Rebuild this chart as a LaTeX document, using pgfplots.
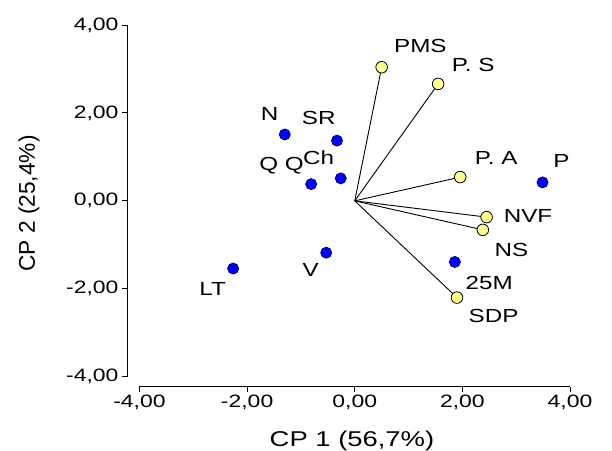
\documentclass[border=0pt]{standalone}
\usepackage{fontspec}
\setmainfont{Liberation Sans}
\newfontfamily\wide[FakeStretch=1.28]{Liberation Sans}
\usepackage{pgfplots}
\pgfplotsset{compat=1.18}
\definecolor{ptblue}{RGB}{0,0,255}
\definecolor{ptyellow}{RGB}{255,255,150}
\begin{document}
\begin{tikzpicture}
\begin{axis}[
  scale only axis,
  width=430.5bp, height=351.7bp,
  xmin=-4, xmax=4, ymin=-4, ymax=4,
  axis lines=left,
  axis line style={-, line width=0.9bp},
  axis x line shift=10bp,
  axis y line shift=12.5bp,
  tick align=outside,
  major tick length=5bp,
  tick style={line width=0.9bp, black},
  xtick={-4,-2,0,2,4}, ytick={-4,-2,0,2,4},
  xticklabels={{-4,00},{-2,00},{0,00},{2,00},{4,00}},
  yticklabels={{-4,00},{-2,00},{0,00},{2,00},{4,00}},
  ticklabel style={font=\wide\fontsize{18}{18}\selectfont},
  xlabel={\wide\fontsize{21.5}{21.5}\selectfont CP 1 (56,7\%)},
  ylabel={\fontsize{22.8}{22.8}\selectfont CP 2 (25,4\%)},
  xlabel style={at={(axis description cs:0.4936,-0.184)}, anchor=center, inner sep=0pt},
  ylabel style={at={(axis description cs:-0.2567,0.4925)}, anchor=center, inner sep=0pt},
  clip=false,
]
\coordinate (O) at (rel axis cs:0,0);
% loading vectors
\addplot[black, line width=0.9bp] coordinates {(0,0) (0.50,3.04)};
\addplot[black, line width=0.9bp] coordinates {(0,0) (1.55,2.66)};
\addplot[black, line width=0.9bp] coordinates {(0,0) (1.96,0.54)};
\addplot[black, line width=0.9bp] coordinates {(0,0) (2.45,-0.37)};
\addplot[black, line width=0.9bp] coordinates {(0,0) (2.38,-0.66)};
\addplot[black, line width=0.9bp] coordinates {(0,0) (1.90,-2.20)};
% variables (yellow)
\addplot[only marks, mark=*, mark size=5.8bp, mark options={fill=ptyellow, draw=black, line width=0.8bp}] coordinates {
(0.50,3.04) (1.55,2.66) (1.96,0.54) (2.45,-0.37) (2.38,-0.66) (1.90,-2.20)};
% observations (blue)
\addplot[only marks, mark=*, mark size=5.5bp, mark options={fill=ptblue, draw=black!60!blue, line width=0.8bp}] coordinates {
(-1.30,1.51) (-0.33,1.37) (-0.81,0.38) (-0.26,0.51) (3.49,0.42) (1.86,-1.39) (-0.53,-1.18) (-2.26,-1.54)};
\begin{scope}[every node/.style={font=\wide\fontsize{19}{19}\selectfont, inner sep=0pt}]
\node at (axis cs:-1.58,1.98) {N};
\node at (axis cs:-0.67,1.89) {SR};
\node at (axis cs:-1.36,0.81) {Q Q};
\node at (axis cs:-0.67,0.97) {Ch};
\node at (axis cs:3.84,0.90) {P};
\node at (axis cs:1.22,3.52) {PMS};
\node at (axis cs:2.20,3.09) {P. S};
\node at (axis cs:2.63,0.98) {P. A};
\node at (axis cs:3.22,-0.35) {NVF};
\node at (axis cs:2.91,-1.11) {NS};
\node at (axis cs:2.50,-1.86) {25M};
\node at (axis cs:2.58,-2.63) {SDP};
\node at (axis cs:-0.82,-1.57) {V};
\node at (axis cs:-2.64,-2.00) {LT};
\end{scope}
\end{axis}
\pgfresetboundingbox
\path (O) ++(-139.5bp,-74.3bp) rectangle ++(612bp,451bp);
\end{tikzpicture}
\end{document}
